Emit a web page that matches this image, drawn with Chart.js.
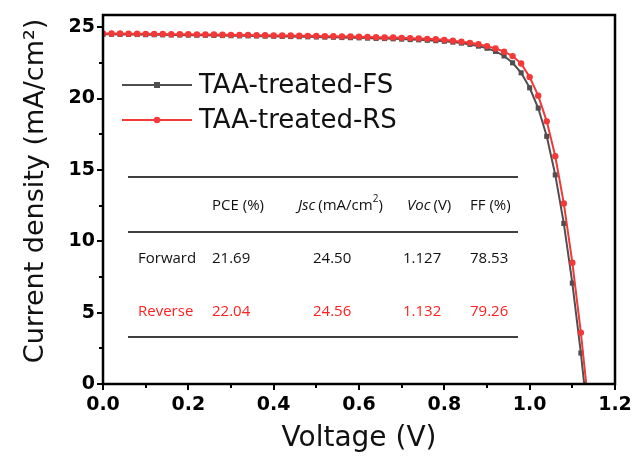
<!DOCTYPE html>
<html>
<head>
<meta charset="utf-8">
<script src="https://cdn.jsdelivr.net/npm/chart.js@4"></script>
<style>
  html, body { margin: 0; padding: 0; background: #fff; }
  #wrap { width: 632px; height: 461px; }
</style>
</head>
<body>
<div id="wrap"><canvas id="jvChart" width="632" height="461"></canvas></div>
<script>
// Tegangan (V), langkah scan 0.02 V
const voltage = [
  0.00, 0.02, 0.04, 0.06, 0.08, 0.10, 0.12, 0.14, 0.16, 0.18,
  0.20, 0.22, 0.24, 0.26, 0.28, 0.30, 0.32, 0.34, 0.36, 0.38,
  0.40, 0.42, 0.44, 0.46, 0.48, 0.50, 0.52, 0.54, 0.56, 0.58,
  0.60, 0.62, 0.64, 0.66, 0.68, 0.70, 0.72, 0.74, 0.76, 0.78,
  0.80, 0.82, 0.84, 0.86, 0.88, 0.90, 0.92, 0.94, 0.96, 0.98,
  1.00, 1.02, 1.04, 1.06, 1.08, 1.10, 1.12, 1.14
];

// Rapat arus (mA/cm2) - scan maju
const fsCurrent = [
  24.50, 24.50, 24.49, 24.49, 24.48, 24.47, 24.47, 24.46, 24.45, 24.45,
  24.44, 24.43, 24.43, 24.42, 24.41, 24.40, 24.39, 24.39, 24.38, 24.37,
  24.36, 24.35, 24.34, 24.33, 24.32, 24.31, 24.30, 24.29, 24.27, 24.26,
  24.25, 24.23, 24.21, 24.20, 24.18, 24.16, 24.13, 24.11, 24.08, 24.05,
  24.01, 23.95, 23.88, 23.79, 23.67, 23.52, 23.30, 22.98, 22.50, 21.80,
  20.75, 19.33, 17.35, 14.65, 11.25, 7.07, 2.17, -3.40
];

// Rapat arus (mA/cm2) - scan balik
const rsCurrent = [
  24.56, 24.55, 24.55, 24.54, 24.54, 24.53, 24.52, 24.52, 24.51, 24.50,
  24.50, 24.49, 24.48, 24.48, 24.47, 24.46, 24.45, 24.45, 24.44, 24.43,
  24.42, 24.41, 24.41, 24.40, 24.39, 24.38, 24.37, 24.36, 24.35, 24.34,
  24.33, 24.31, 24.30, 24.28, 24.27, 24.25, 24.23, 24.21, 24.18, 24.15,
  24.11, 24.05, 23.98, 23.90, 23.80, 23.67, 23.50, 23.28, 22.97, 22.45,
  21.50, 20.20, 18.40, 15.95, 12.65, 8.50, 3.60, -2.10
];

const seriesLabels = ["TAA-treated-FS", "TAA-treated-RS"];

// Tabel parameter
const tableRows = ["Forward", "Reverse"];
const pceVals = ["21.69", "22.04"];
const jscVals = ["24.50", "24.56"];
const vocVals = ["1.127", "1.132"];
const ffVals = ["78.53", "79.26"];

const GRAY = "#4f4f4f";
const RED = "#f23838";
const TEXT_RED = "#ff1f1f";

function isStep(v, step) {
    const r = v / step;
    return Math.abs(r - Math.round(r)) < 1e-6;
}

// Bingkai dan tanda tick
const frameTicks = {
    id: "frameTicks",
    afterDraw(chart) {
        const ctx = chart.ctx;
        const a = chart.chartArea;
        const xs = chart.scales.x;
        const ys = chart.scales.y;
        ctx.save();
        ctx.strokeStyle = "#000";
        ctx.lineWidth = 2;
        xs.ticks.forEach((t) => {
            if (!isStep(t.value, 0.1)) return;
            const major = isStep(t.value, 0.2);
            const px = Math.round(xs.getPixelForValue(t.value));
            ctx.beginPath();
            ctx.moveTo(px, a.bottom);
            ctx.lineTo(px, a.bottom + (major ? 6 : 4));
            ctx.stroke();
        });
        ys.ticks.forEach((t) => {
            if (!isStep(t.value, 2.5)) return;
            const major = isStep(t.value, 5);
            const py = Math.round(ys.getPixelForValue(t.value));
            ctx.beginPath();
            ctx.moveTo(a.left, py);
            ctx.lineTo(a.left - (major ? 6 : 4), py);
            ctx.stroke();
        });
        ctx.lineWidth = 2.5;
        ctx.strokeRect(a.left, a.top, a.right - a.left, a.bottom - a.top);
        ctx.restore();
    }
};

// Legenda manual di dalam area plot
const insideLegend = {
    id: "insideLegend",
    afterDraw(chart) {
        const ctx = chart.ctx;
        ctx.save();
        chart.data.datasets.forEach((ds, i) => {
            const y = 85 + i * 35;
            ctx.strokeStyle = ds.borderColor;
            ctx.lineWidth = 2;
            ctx.beginPath();
            ctx.moveTo(122, y);
            ctx.lineTo(192, y);
            ctx.stroke();
            ctx.fillStyle = ds.borderColor;
            if (ds.pointStyle === "rect") {
                ctx.fillRect(154, y - 3, 6, 6);
            } else {
                ctx.beginPath();
                ctx.arc(157, y, 3.2, 0, Math.PI * 2);
                ctx.fill();
            }
            ctx.fillStyle = "#111";
            ctx.font = "26px 'DejaVu Sans'";
            ctx.textBaseline = "middle";
            ctx.fillText(ds.label, 199, y + 1);
        });
        ctx.restore();
    }
};

// Tabel parameter fotovoltaik
const paramTable = {
    id: "paramTable",
    afterDraw(chart) {
        const ctx = chart.ctx;
        ctx.save();
        ctx.strokeStyle = "#000";
        ctx.lineWidth = 1.3;
        [177, 232, 337].forEach((y) => {
            ctx.beginPath();
            ctx.moveTo(128, y);
            ctx.lineTo(518, y);
            ctx.stroke();
        });

        const font = "15px 'Open Sans'";
        const italic = "italic 15px 'Open Sans'";
        ctx.textBaseline = "middle";
        ctx.fillStyle = "#111";

        // header
        const hy = 206;
        ctx.font = font;
        ctx.fillText("PCE (%)", 212, hy);
        ctx.font = italic;
        ctx.fillText("Jsc", 298, hy);
        let x = 298 + ctx.measureText("Jsc").width + 3;
        ctx.font = font;
        ctx.fillText("(mA/cm", x, hy);
        x += ctx.measureText("(mA/cm").width;
        ctx.font = "10px 'Open Sans'";
        ctx.fillText("2", x, hy - 7);
        x += ctx.measureText("2").width;
        ctx.font = font;
        ctx.fillText(")", x, hy);
        ctx.font = italic;
        ctx.fillText("Voc", 407, hy);
        x = 407 + ctx.measureText("Voc").width + 3;
        ctx.font = font;
        ctx.fillText("(V)", x, hy);
        ctx.fillText("FF (%)", 470, hy);

        tableRows.forEach((name, i) => {
            const y = 259 + i * 53;
            ctx.fillStyle = i === 0 ? "#111" : TEXT_RED;
            ctx.font = font;
            ctx.fillText(name, 138, y);
            ctx.fillText(pceVals[i], 212, y);
            ctx.fillText(jscVals[i], 313, y);
            ctx.fillText(vocVals[i], 403, y);
            ctx.fillText(ffVals[i], 470, y);
        });
        ctx.restore();
    }
};

const ctx = document.getElementById("jvChart").getContext("2d");

new Chart(ctx, {
    type: "line",
    data: {
        datasets: [
            {
                label: seriesLabels[0],
                data: voltage.map((v, i) => ({ x: v, y: fsCurrent[i] })),
                borderColor: GRAY,
                backgroundColor: GRAY,
                borderWidth: 2,
                pointStyle: "rect",
                pointRadius: 3.6,
                pointBorderWidth: 0,
                order: 1,
                fill: false
            },
            {
                label: seriesLabels[1],
                data: voltage.map((v, i) => ({ x: v, y: rsCurrent[i] })),
                borderColor: RED,
                backgroundColor: RED,
                borderWidth: 2,
                pointStyle: "circle",
                pointRadius: 3.2,
                pointBorderWidth: 0,
                order: 0,
                fill: false
            }
        ]
    },
    options: {
        responsive: false,
        animation: false,
        layout: { padding: { top: 15, right: 17, left: 0, bottom: 0 } },
        plugins: {
            legend: { display: false },
            tooltip: { enabled: false }
        },
        scales: {
            x: {
                type: "linear",
                min: 0,
                max: 1.2,
                grid: { display: false, drawTicks: false },
                border: { display: false },
                ticks: {
                    stepSize: 0.1,
                    autoSkip: false,
                    maxRotation: 0,
                    includeBounds: false,
                    padding: 10,
                    color: "#000",
                    font: { family: "'DejaVu Sans'", size: 19, weight: "bold" },
                    callback: (v) => isStep(v, 0.2) ? v.toFixed(1) : ""
                },
                title: {
                    display: true,
                    text: "Voltage (V)",
                    color: "#111",
                    font: { family: "'DejaVu Sans'", size: 28 },
                    padding: { top: 0, bottom: 5 }
                },
                afterFit: (scale) => {
                    scale.height = 77;
                    scale.paddingLeft = 0;
                    scale.paddingRight = 0;
                }
            },
            y: {
                type: "linear",
                min: 0,
                max: 25.85,
                grid: { display: false, drawTicks: false },
                border: { display: false },
                ticks: {
                    stepSize: 2.5,
                    autoSkip: false,
                    includeBounds: false,
                    padding: 8,
                    color: "#000",
                    font: { family: "'DejaVu Sans'", size: 19, weight: "bold" },
                    callback: (v) => isStep(v, 5) ? String(v) : ""
                },
                title: {
                    display: true,
                    // dua spasi di depan menggeser judul sedikit ke atas
                    text: "\u00a0\u00a0Current density (mA/cm²)",
                    color: "#111",
                    font: { family: "'DejaVu Sans'", size: 27 },
                    padding: { top: 20, bottom: 0 }
                },
                afterFit: (scale) => {
                    scale.width = 103;
                    scale.paddingTop = 0;
                    scale.paddingBottom = 0;
                }
            }
        }
    },
    plugins: [frameTicks, insideLegend, paramTable]
});
</script>
</body>
</html>
